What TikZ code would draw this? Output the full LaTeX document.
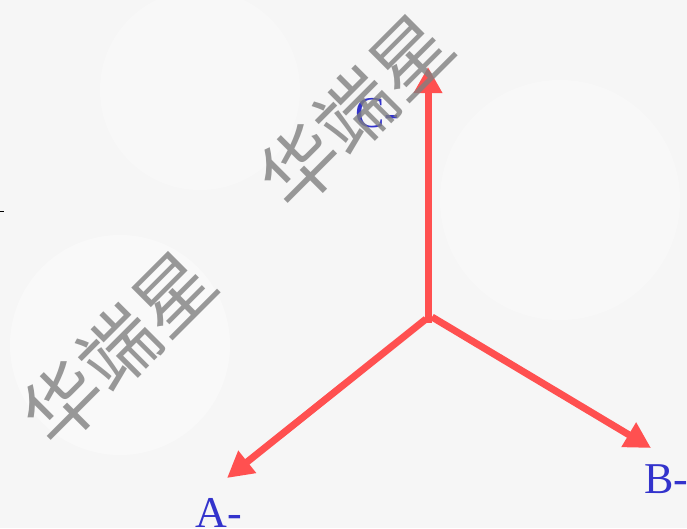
\documentclass[tikz,border=0pt]{standalone}
\usepackage{fontspec}
\setmainfont{Liberation Serif}
\newfontfamily\cjk{Noto Sans CJK SC}
\usetikzlibrary{arrows.meta}
\definecolor{bgc}{RGB}{246,246,246}
\definecolor{arrowred}{RGB}{255,80,80}
\definecolor{lblblue}{RGB}{51,51,204}
\definecolor{wmgray}{RGB}{128,128,128}
\tikzset{
  phasor/.style={draw=arrowred, line width=7pt, -{Triangle[length=26pt,width=27pt]}},
  lbl/.style={text=lblblue, font=\fontsize{44}{44}\selectfont, inner sep=0pt},
  wm/.style={text=wmgray, opacity=0.8, font=\cjk\fontsize{78}{78}\selectfont, rotate=45, inner sep=0pt},
}
\begin{document}
\begin{tikzpicture}[x=1pt,y=-1pt]
\fill[bgc] (0,0) rectangle (687,528);
\useasboundingbox (0,0) rectangle (687,528);
\fill[white, opacity=0.35] (120,345) circle (110);
\fill[white, opacity=0.3] (560,200) circle (120);
\fill[white, opacity=0.3] (200,90) circle (100);
\draw[black, line width=1pt] (0,211) -- (4,211);
\coordinate (o) at (428,320);
\coordinate (oc) at (428,323);
\coordinate (ob) at (432,317);
\coordinate (oa) at (426,319);
\coordinate (tc) at (428,67);
\coordinate (tb) at (651,448);
\coordinate (ta) at (227,478);
\draw[phasor] (oc) -- (tc);
\draw[phasor] (ob) -- (tb);
\draw[phasor] (oa) -- (ta);
\node[lbl] (lc) at (377,113) {C-};
\node[lbl] (lb) at (666,479) {B-};
\node[lbl] (la) at (219,513) {A-};
\node[wm] (w1) at (355,111) {华端星};
\node[wm] (w2) at (118,348) {华端星};
\end{tikzpicture}
\end{document}
